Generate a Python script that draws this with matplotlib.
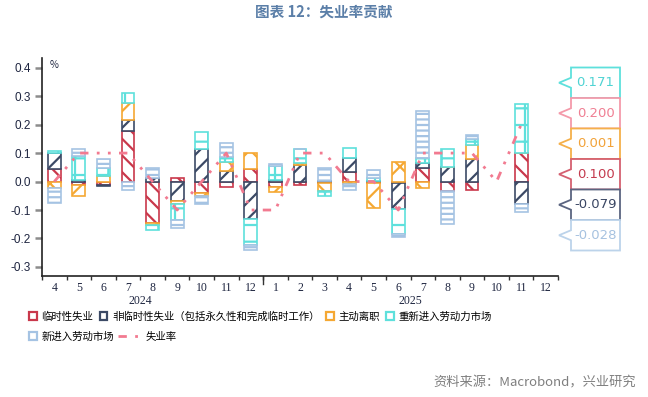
import matplotlib
matplotlib.use("Agg")
import matplotlib.pyplot as plt
import numpy as np
from matplotlib.patches import Patch, Polygon
from matplotlib.lines import Line2D

plt.rcParams['font.family'] = ['Noto Sans CJK SC', 'DejaVu Sans']
plt.rcParams['axes.unicode_minus'] = False
plt.rcParams['hatch.linewidth'] = 1.6

# 2024-04 ... 2025-12
months = ['4', '5', '6', '7', '8', '9', '10', '11', '12',
          '1', '2', '3', '4', '5', '6', '7', '8', '9', '10', '11', '12']
years = ['2024', '2025']
nan = np.nan

temp_unemp = [0.045, -0.013, -0.012, 0.178, -0.146, 0.012, -0.041, -0.020, 0.044,
              -0.018, -0.012, -0.006, 0.033, -0.004, -0.006, 0.047, -0.032, -0.031, nan, 0.100, nan]
perm_unemp = [0.056, 0.007, -0.005, 0.037, 0.012, -0.068, 0.116, 0.038, -0.131,
              0.007, 0.058, 0.002, 0.049, 0.003, -0.092, 0.018, 0.052, 0.080, nan, -0.079, nan]
job_leavers = [-0.021, -0.038, 0.020, 0.062, -0.007, -0.012, -0.010, 0.032, 0.056,
               -0.020, 0.006, -0.028, -0.009, -0.088, 0.070, -0.023, 0.000, 0.047, nan, 0.001, nan]
reentrants = [0.007, 0.084, 0.027, 0.033, -0.016, -0.055, 0.059, 0.018, -0.091,
              0.049, 0.050, -0.016, 0.035, 0.008, -0.087, 0.016, 0.062, 0.023, nan, 0.171, nan]
new_entrants = [-0.054, 0.023, 0.031, -0.030, 0.035, -0.027, -0.028, 0.047, -0.017,
                0.006, 0.002, 0.044, -0.022, 0.028, -0.010, 0.168, -0.116, 0.014, nan, -0.028, nan]
unemp_rate = [0.0, 0.1, 0.1, 0.1, 0.0, -0.1, 0.0, 0.1, -0.1,
              -0.1, 0.1, 0.1, 0.0, 0.0, -0.1, 0.1, 0.1, 0.1, 0.0, 0.2, nan]

series = [
    ('临时性失业', temp_unemp, '#c9384b', '\\\\'),
    ('非临时性失业（包括永久性和完成临时工作）', perm_unemp, '#3c4a66', '//'),
    ('主动离职', job_leavers, '#f5a833', 'x'),
    ('重新进入劳动力市场', reentrants, '#5ee0dc', '+'),
    ('新进入劳动市场', new_entrants, '#a5c3e3', '---'),
]
line_color = '#f27a90'
line_style = (0, (3, 3, 1, 3, 1, 3))

W, H = 648, 397
fig = plt.figure(figsize=(W / 100, H / 100), dpi=100)
ax = fig.add_axes([42 / W, 1 - 275.5 / H, 516 / W, 217.5 / H])

x = np.arange(len(months))
pos_bottom = np.zeros(len(months))
neg_bottom = np.zeros(len(months))
for name, vals, color, hatch in series:
    v = np.array(vals, dtype=float)
    v0 = np.nan_to_num(v)
    bottom = np.where(v0 >= 0, pos_bottom, neg_bottom)
    ax.bar(x, v, width=0.52, bottom=bottom, facecolor='white', edgecolor=color,
           hatch=hatch, linewidth=1.2, zorder=2)
    pos_bottom += np.where(v0 > 0, v0, 0)
    neg_bottom += np.where(v0 < 0, v0, 0)

ax.plot(x, unemp_rate, color=line_color, lw=2.0, linestyle=line_style, zorder=3)

ax.set_xlim(-0.5, len(months) - 0.5)
ax.set_ylim(-0.33, 0.434)
yt = np.arange(-0.3, 0.41, 0.1)
ax.set_yticks(yt)
ax.set_yticklabels([f'{t:.1f}' for t in yt], family='Liberation Sans',
                   fontsize=8.5, color='#1e2540')
ax.tick_params(axis='y', length=5, width=1.8, color='#8c8c8c', pad=3)

ax.set_xticks(np.arange(-0.5, len(months), 1))
ax.set_xticklabels([])
ax.tick_params(axis='x', which='major', length=3, width=1, color='#333333')
ax.set_xticks(x, minor=True)
ax.set_xticklabels(months, minor=True, family='Liberation Serif', fontsize=8.5,
                   color='#1e2540')
ax.tick_params(axis='x', which='minor', length=0, pad=5)
ax.plot([8.5, 8.5], [0, -0.04], transform=ax.get_xaxis_transform(),
        color='#333333', lw=1, clip_on=False)
for xi, yr in zip([3.5, 14.5], years):
    ax.text(xi, -0.117, yr, transform=ax.get_xaxis_transform(), ha='center',
            va='center', family='Liberation Serif', fontsize=8.5, color='#1e2540')

for s in ['top', 'right']:
    ax.spines[s].set_visible(False)
ax.spines['left'].set_color('#222222')
ax.spines['bottom'].set_color('#222222')
ax.spines['left'].set_linewidth(1.2)
ax.spines['bottom'].set_linewidth(1.2)
ax.text(0.015, 0.968, '%', transform=ax.transAxes, fontsize=7, va='center',
        color='#1e2540')

# callouts for the latest month
last = 19
callouts = [
    (reentrants[last], '#5ee0dc', '#4fd3d3'),
    (unemp_rate[last], '#f49aaa', '#f07f93'),
    (job_leavers[last], '#f5b04a', '#f2a33a'),
    (temp_unemp[last], '#d46070', '#c43b4e'),
    (perm_unemp[last], '#5a6480', '#3a4663'),
    (new_entrants[last], '#bcd3ea', '#a6c2e0'),
]


def px(px_x, px_y):
    return (px_x / W, 1 - px_y / H)


for i, (val, ec, tc) in enumerate(callouts):
    top = 67.5 + i * 30.5
    bot = top + 30.5
    c = (top + bot) / 2
    pts = [px(571, top), px(620, top), px(620, bot), px(571, bot),
           px(571, c + 5), px(559, c), px(571, c - 5)]
    fig.add_artist(Polygon(pts, closed=True, transform=fig.transFigure,
                           facecolor='white', edgecolor=ec, lw=1.3))
    fig.text(*px(595.5, c), f'{val:.3f}', ha='center', va='center',
             fontsize=9.5, color=tc, family='DejaVu Sans')

# legend
leg_kw = dict(frameon=False, fontsize=7.5, handlelength=0.75, handleheight=0.75,
              handletextpad=0.45, columnspacing=0.6, borderaxespad=0, borderpad=0,
              loc='center left')
h1 = [Patch(facecolor='white', edgecolor=c, lw=1.6) for _, _, c, _ in series[:4]]
fig.legend(h1, [n for n, _, _, _ in series[:4]], ncol=4,
           bbox_to_anchor=px(29, 316.7), **leg_kw)
h2 = [Patch(facecolor='white', edgecolor=series[4][2], lw=1.6)]
fig.legend(h2, [series[4][0]], bbox_to_anchor=px(29, 336.7), **leg_kw)
leg_kw2 = dict(leg_kw, handlelength=2.2)
fig.legend([Line2D([], [], color=line_color, lw=2, linestyle=line_style)], ['失业率'],
           bbox_to_anchor=px(118, 336.7), **leg_kw2)

fig.text(0.5, 1 - 12 / H, '图表 12：失业率贡献', ha='center', va='center',
         fontsize=10.5, fontweight='bold', color='#5b7fa8')
fig.text(636 / W, 1 - 383 / H, '资料来源：Macrobond，兴业研究', ha='right', va='center',
         fontsize=9.5, color='#7f7f7f')

fig.savefig('out.png', dpi=100)
